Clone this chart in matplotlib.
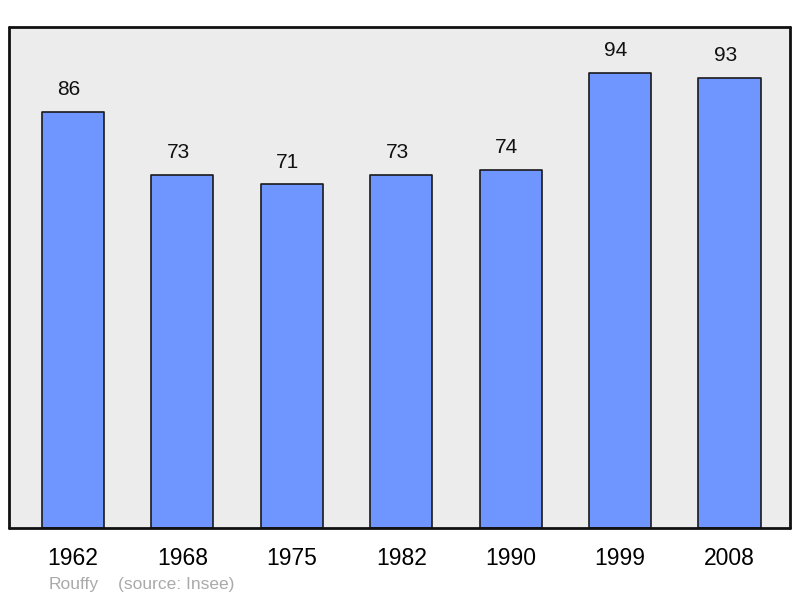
import matplotlib
matplotlib.use("Agg")
import matplotlib.pyplot as plt

years = ["1962", "1968", "1975", "1982", "1990", "1999", "2008"]
population = [86, 73, 71, 73, 74, 94, 93]
commune = "Rouffy"
source = "(source: Insee)"

plt.rcParams['font.family'] = ['Liberation Sans', 'DejaVu Sans']

fig = plt.figure(figsize=(8, 5.98), dpi=100)
ax = fig.add_axes([9 / 800, 70 / 598, 781 / 800, 501 / 598])
ax.set_facecolor("#ececec")

x = list(range(len(years)))
bars = ax.bar(x, population, width=0.567, color="#6f96ff", edgecolor="#1a1a1a",
              linewidth=1.2, zorder=2)
for b in bars:
    b.set_joinstyle("round")

for xi, v in zip(x, population):
    ax.annotate(str(v), (xi, v), xytext=(-3, 9), textcoords="offset points",
                ha="center", va="bottom", fontsize=15, color="#111111")

ax.set_xlim(-0.585, 6.553)
ax.set_ylim(0, 103.5)
ax.set_xticks(x)
ax.set_xticklabels(years, fontsize=16.5)
ax.set_yticks([])
ax.tick_params(axis="x", length=0, pad=14)
for s in ax.spines.values():
    s.set_linewidth(2)
    s.set_color("#111111")
    s.set_capstyle("round")

fig.text(49 / 800, 1 - 584 / 598, commune, fontsize=12.5, color="#aaaaaa", va="center")
fig.text(118 / 800, 1 - 584 / 598, source, fontsize=12.5, color="#aaaaaa", va="center")

fig.savefig("out.png", dpi=100)
